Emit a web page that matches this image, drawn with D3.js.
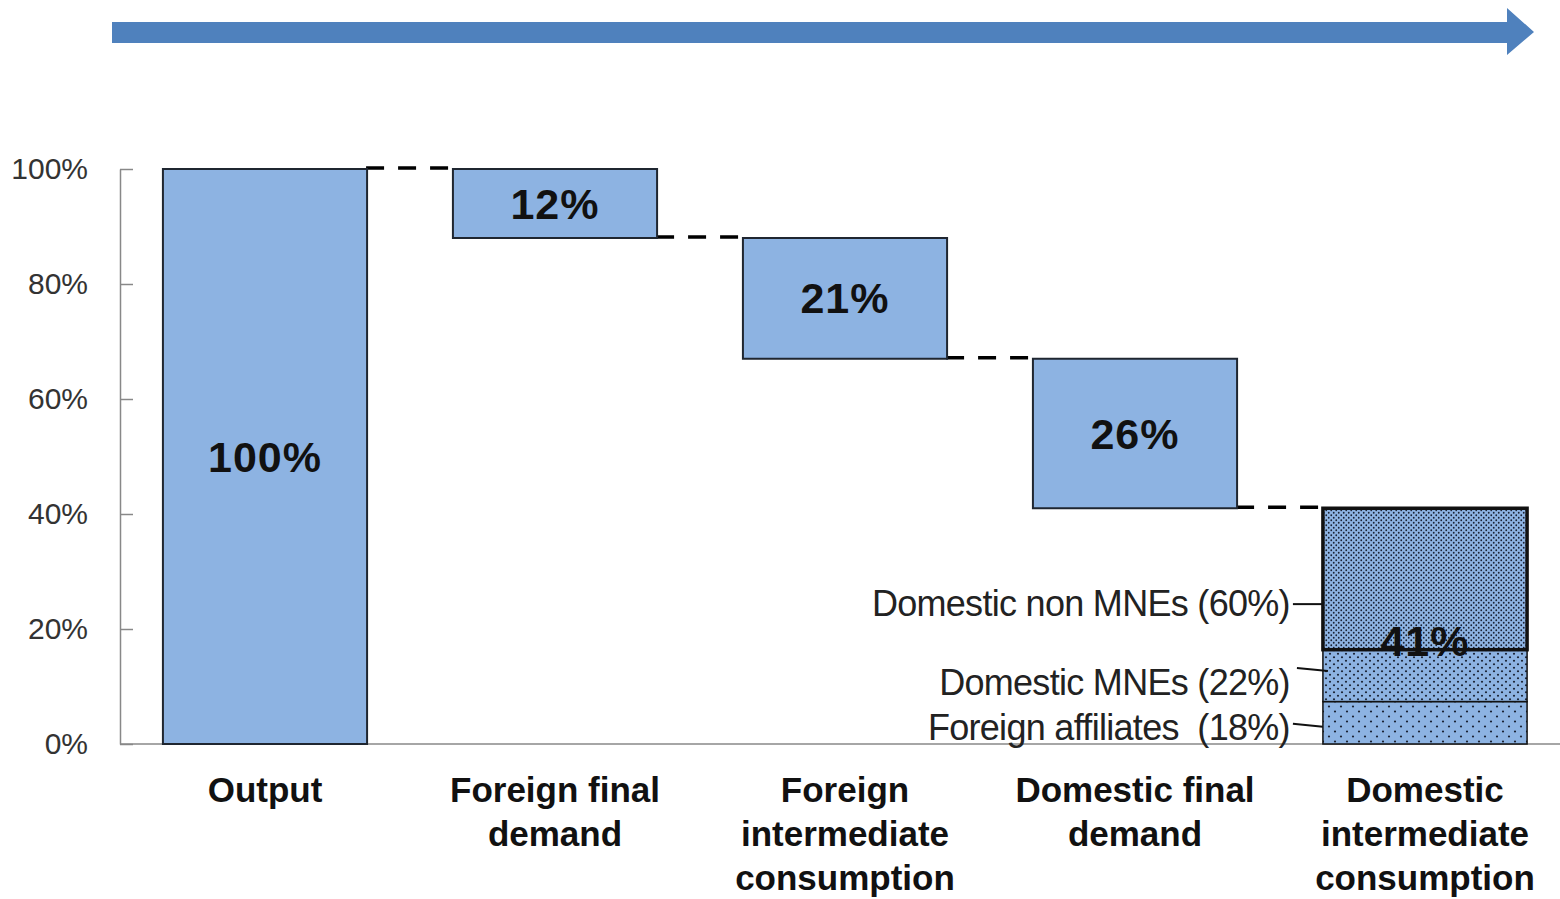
<!DOCTYPE html>
<meta charset="utf-8">
<html>
<head>
  <title>Output waterfall</title>
  <style>
    body { margin: 0; background: #fff; }
    svg { width: 1560px; height: 899px; display: block; }
    text { font-family: 'Liberation Sans', Arial, sans-serif; }
    .tick text { fill: #333; font-size: 30px; }
    .catlabel { font-weight: bold; font-size: 35px; fill: #111; text-anchor: middle; }
    .vallabel { font-weight: bold; font-size: 43px; fill: #111; text-anchor: middle; letter-spacing: 1px; }
    .annot { font-size: 36px; fill: #222; text-anchor: end; letter-spacing: -0.7px; white-space: pre; }
  </style>
  <script src="https://d3js.org/d3.v7.min.js"></script>
</head>
<body>
  <svg></svg>
  <script>

    // categories and their label lines
    var categories = ["Output", "Foreign final demand", "Foreign intermediate consumption",
                      "Domestic final demand", "Domestic intermediate consumption"];
    var categoryLines = [["Output"], ["Foreign final", "demand"], ["Foreign", "intermediate", "consumption"],
                         ["Domestic final", "demand"], ["Domestic", "intermediate", "consumption"]];
    // share of output (%)
    var values = [100, 12, 21, 26, 41];
    // breakdown of the last bar (% of that bar), bottom to top
    var subNames = ["Foreign affiliates  (18%)", "Domestic MNEs (22%)", "Domestic non MNEs (60%)"];
    var subShares = [18, 22, 60];
    // where the side labels sit (% of output)
    var subLabelPos = [3, 10.8, 24.5];
    var yTicks = [0, 20, 40, 60, 80, 100];

    var svg = d3.select("svg");
    var margin = {top: 169, left: 120, bottom: 155};
    var height = 899 - margin.top - margin.bottom;

    var x = d3.scaleBand().domain(categories).range([0, 1450]).paddingInner(0.296).paddingOuter(0.148);
    var y = d3.scaleLinear().domain([0, 100]).range([height, 0]);

    // big arrow across the top
    var defs = svg.append("defs");
    svg.append("path")
      .attr("d", "M112,22 L1507,22 L1507,8 L1534,32 L1507,55 L1507,43 L112,43 Z")
      .attr("fill", "#4F81BD");

    // dotted fills for the breakdown
    var dotSpecs = [{id: "dotsSparse", w: 12, h: 10, r: 1.1},
                    {id: "dotsMid", w: 8, h: 7, r: 1.1},
                    {id: "dotsDense", w: 5, h: 5, r: 0.9}];
    dotSpecs.forEach(function(p) {
      var pat = defs.append("pattern").attr("id", p.id).attr("patternUnits", "userSpaceOnUse")
        .attr("width", p.w).attr("height", p.h);
      pat.append("rect").attr("width", p.w).attr("height", p.h).attr("fill", "#8DB3E2");
      pat.append("circle").attr("cx", p.w / 4).attr("cy", p.h / 4).attr("r", p.r).attr("fill", "#1a2233");
      pat.append("circle").attr("cx", p.w * 3 / 4).attr("cy", p.h * 3 / 4).attr("r", p.r).attr("fill", "#1a2233");
    });

    var g = svg.append("g").attr("transform", "translate(" + margin.left + "," + margin.top + ")");

    // waterfall: first bar is the total, the others hang from the previous bottom
    var bars = [];
    var level = values[0];
    values.forEach(function(v, i) {
      if (i === 0) {
        bars.push({cat: categories[i], value: v, top: v, bottom: 0});
      } else {
        bars.push({cat: categories[i], value: v, top: level, bottom: level - v});
        level -= v;
      }
    });

    // y axis
    g.append("g")
      .call(d3.axisLeft(y).tickValues(yTicks).tickSize(-13).tickSizeOuter(0).tickPadding(32)
        .tickFormat(function(d) { return d + "%"; }))
      .call(function(a) {
        a.select(".domain").attr("stroke", "#888").attr("stroke-width", 1.5);
        a.selectAll(".tick line").attr("stroke", "#888").attr("stroke-width", 1.5);
      });

    // x axis
    var xAxis = g.append("g")
      .attr("transform", "translate(0," + height + ")")
      .call(d3.axisBottom(x).tickSize(0).tickSizeOuter(0).tickFormat(""));
    xAxis.select(".domain").attr("d", "M0,0H1440").attr("stroke", "#888").attr("stroke-width", 1.5);

    categories.forEach(function(c, i) {
      var t = g.append("text").attr("class", "catlabel")
        .attr("x", x(c) + x.bandwidth() / 2).attr("y", height + 58);
      categoryLines[i].forEach(function(line, j) {
        t.append("tspan").attr("x", x(c) + x.bandwidth() / 2).attr("dy", j === 0 ? 0 : 44).text(line);
      });
    });

    // dashed connectors from the top of each bar back to the previous one
    for (var i = 1; i < bars.length; i++) {
      g.append("line")
        .attr("x1", x(bars[i - 1].cat) + x.bandwidth() - 1).attr("x2", x(bars[i].cat))
        .attr("y1", y(bars[i].top) - 1).attr("y2", y(bars[i].top) - 1)
        .attr("stroke", "#000").attr("stroke-width", 3.5).attr("stroke-dasharray", "18,14");
    }

    // plain bars
    g.selectAll(".bar")
      .data(bars.slice(0, bars.length - 1))
      .enter().append("rect")
        .attr("class", "bar")
        .attr("x", function(d) { return x(d.cat); })
        .attr("y", function(d) { return y(d.top); })
        .attr("width", x.bandwidth())
        .attr("height", function(d) { return y(d.bottom) - y(d.top); })
        .attr("fill", "#8DB3E2")
        .attr("stroke", "#1f2630")
        .attr("stroke-width", 2);

    // last bar, split into its three parts
    var last = bars[bars.length - 1];
    var cum = 0;
    var segs = subShares.map(function(s, k) {
      var lo = cum;
      cum += s * last.value / 100;
      return {lo: lo, hi: cum, name: subNames[k], fill: "url(#" + dotSpecs[k].id + ")", k: k};
    });
    g.selectAll(".seg")
      .data(segs)
      .enter().append("rect")
        .attr("class", "seg")
        .attr("x", x(last.cat))
        .attr("y", function(d) { return y(d.hi); })
        .attr("width", x.bandwidth())
        .attr("height", function(d) { return y(d.lo) - y(d.hi); })
        .attr("fill", function(d) { return d.fill; })
        .attr("stroke", "#111")
        .attr("stroke-width", 1.5);
    // thick border round the top part
    var topSeg = segs[segs.length - 1];
    g.append("rect")
      .attr("x", x(last.cat)).attr("y", y(topSeg.hi))
      .attr("width", x.bandwidth()).attr("height", y(topSeg.lo) - y(topSeg.hi))
      .attr("fill", "none").attr("stroke", "#111").attr("stroke-width", 3.5);

    // value labels
    g.selectAll(".vallabel")
      .data(bars)
      .enter().append("text")
        .attr("class", "vallabel")
        .attr("x", function(d) { return x(d.cat) + x.bandwidth() / 2; })
        .attr("y", function(d, i) { return y((d.top + d.bottom) / 2) + 15 + (i === bars.length - 1 ? 15 : 0); })
        .text(function(d) { return d.value + "%"; });

    // side labels with leader lines
    var labelRight = x(last.cat) - 33;
    segs.forEach(function(s, k) {
      var ly = y(subLabelPos[k]);
      g.append("text").attr("class", "annot")
        .attr("x", labelRight).attr("y", ly + 13).text(s.name);
      var tipY = k === 2 ? ly + 1 : ly - (k === 1 ? 14 : 3);
      g.append("line")
        .attr("x1", labelRight + (k === 1 ? 7 : 3)).attr("y1", tipY)
        .attr("x2", x(last.cat) + (k === 1 ? 5 : 0)).attr("y2", tipY + (k === 2 ? 0 : 3))
        .attr("stroke", "#111").attr("stroke-width", 2);
    });

  </script>
</body>
</html>
